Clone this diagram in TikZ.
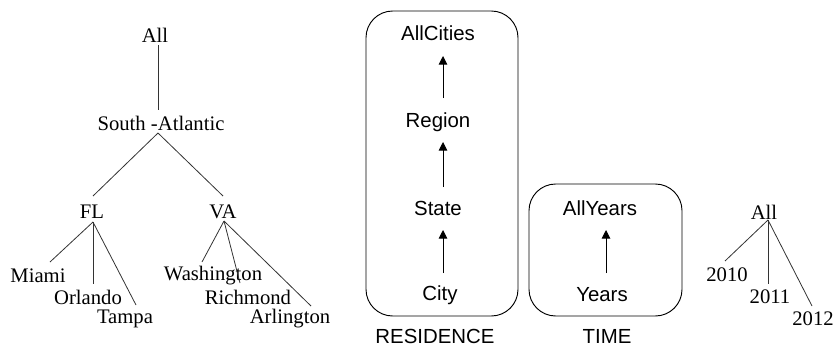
\documentclass[tikz,border=0pt]{standalone}
\usepackage{fontspec}
\setmainfont{Liberation Serif}
\setsansfont{Liberation Sans}
\usetikzlibrary{arrows.meta}
\tikzset{
  lbl/.style={inner sep=0pt, font=\fontsize{15.5}{18}\selectfont},
  slbl/.style={inner sep=0pt, font=\sffamily\fontsize{15.3}{18}\selectfont},
  edge/.style={line width=0.6pt, draw=black!80},
  up/.style={line width=0.7pt, -{Triangle[width=6.5pt,length=6.5pt]}},
  hbox/.style={draw, line width=0.7pt, rounded corners=20pt}
}
\begin{document}
\begin{tikzpicture}[x=0.75pt, y=-0.75pt]
\useasboundingbox (0,0) rectangle (837,347);

% location tree
\node[lbl] (all) at (155,35) {All};
\node[lbl] (sa) at (161,123) {South -Atlantic};
\node[lbl] (fl) at (92,212) {FL};
\node[lbl] (va) at (223,212) {VA};
\node[lbl] (miami) at (38,276) {Miami};
\node[lbl] (orl) at (88,297) {Orlando};
\node[lbl] (tampa) at (125,319) {Tampa};
\node[lbl] (wash) at (213,276) {Washington};
\node[lbl] (rich) at (248,297) {Richmond};
\node[lbl] (arl) at (290,319) {Arlington};

\coordinate (allB) at (158,45);
\coordinate (saT) at (158,110);
\coordinate (saB) at (158,133);
\coordinate (flT) at (93,196);
\coordinate (vaT) at (223,196);
\coordinate (flB) at (93,222);
\coordinate (vaB) at (224,221);
\coordinate (miT) at (50,262);
\coordinate (orT) at (93,284);
\coordinate (taT) at (136,305);
\coordinate (waT) at (202,262);
\coordinate (riT) at (240,283);
\coordinate (arT) at (311,306);

\draw[edge] (allB) -- (saT);
\draw[edge] (saB) -- (flT);
\draw[edge] (saB) -- (vaT);
\draw[edge] (flB) -- (miT);
\draw[edge] (flB) -- (orT);
\draw[edge] (flB) -- (taT);
\draw[edge] (vaB) -- (waT);
\draw[edge] (vaB) -- (riT);
\draw[edge] (vaB) -- (arT);

% residence hierarchy
\draw[hbox] (366,11) rectangle (518,316);
\node[slbl] (allc) at (438,33) {AllCities};
\node[slbl] (reg) at (438,122) {Region};
\node[slbl] (st) at (438,208) {State};
\node[slbl] (city) at (440,295) {City};
\node[slbl] (res) at (435,336) {RESIDENCE};
\draw[up] (443,98) -- (443,56);
\draw[up] (443,187) -- (443,142);
\draw[up] (443,273) -- (443,230);

% time hierarchy
\draw[hbox] (529,184) rectangle (682,316);
\node[slbl] (ally) at (600,208) {AllYears};
\node[slbl] (yrs) at (602,295) {Years};
\node[slbl] (time) at (607,336) {TIME};
\draw[up] (606,273) -- (606,230);

% year tree
\node[lbl] (yall) at (764,212) {All};
\node[lbl] (y10) at (727,275) {2010};
\node[lbl] (y11) at (770,297) {2011};
\node[lbl] (y12) at (813,319) {2012};
\coordinate (yallB) at (768,220);
\draw[edge] (yallB) -- (725,261);
\draw[edge] (yallB) -- (768,284);
\draw[edge] (yallB) -- (812,306);
\end{tikzpicture}
\end{document}
